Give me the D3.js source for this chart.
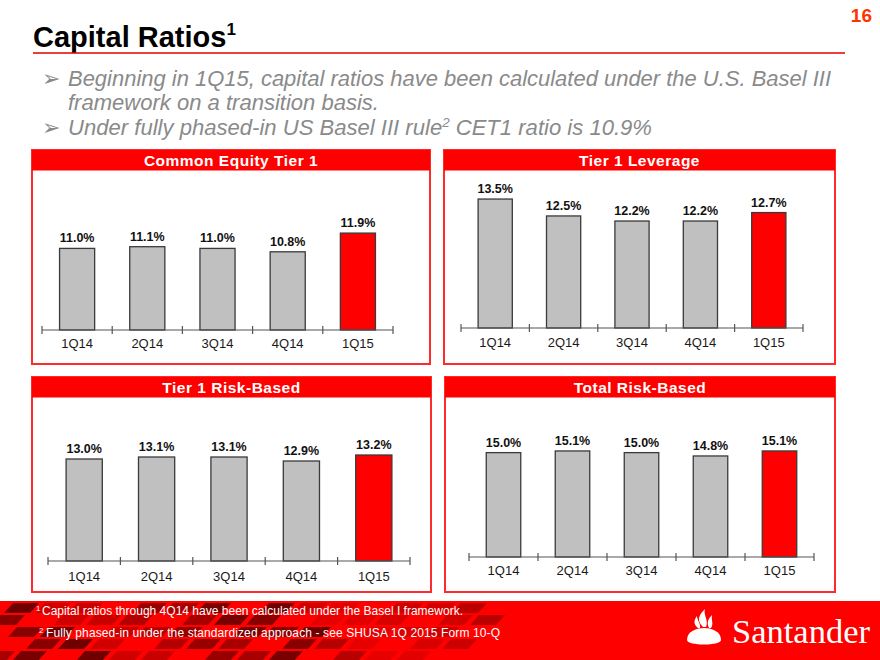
<!DOCTYPE html>
<html>
<head>
<meta charset="utf-8">
<script src="https://cdn.jsdelivr.net/npm/d3@7"></script>
<style>
  html, body { margin: 0; padding: 0; background: #fff; }
  svg { display: block; font-family: Arial, "Liberation Sans", sans-serif; }
</style>
</head>
<body>
<svg id="chart" width="880" height="660"></svg>
<script>
// ---- data ----
const categories = ["1Q14", "2Q14", "3Q14", "4Q14", "1Q15"];
const cet1 = [11.0, 11.1, 11.0, 10.8, 11.9];
const tier1Leverage = [13.5, 12.5, 12.2, 12.2, 12.7];
const tier1RiskBased = [13.0, 13.1, 13.1, 12.9, 13.2];
const totalRiskBased = [15.0, 15.1, 15.0, 14.8, 15.1];
const panelTitles = ["Common Equity Tier 1", "Tier 1 Leverage", "Tier 1 Risk-Based", "Total Risk-Based"];
const highlightCategory = "1Q15";

// ---- layout (positions / styles only) ----
const panels = [
  { title: panelTitles[0], values: cet1, box: [32, 150, 430, 364], axisY: 330, x0: 42, x1: 393, base: 6.2, k: 17.0, labelDy: 17.5 },
  { title: panelTitles[1], values: tier1Leverage, box: [444, 150, 835, 364], axisY: 328, x0: 461, x1: 803, base: 5.87, k: 16.9, labelDy: 19 },
  { title: panelTitles[2], values: tier1RiskBased, box: [32, 377, 431, 592], axisY: 561, x0: 48, x1: 410, base: 7.9, k: 20.0, labelDy: 20 },
  { title: panelTitles[3], values: totalRiskBased, box: [445, 377, 835, 592], axisY: 557, x0: 469, x1: 814, base: 8.75, k: 16.7, labelDy: 18 }
];

const svg = d3.select("#chart");

// ---- header ----
svg.append("text").attr("x", 872).attr("y", 22).attr("text-anchor", "end")
  .attr("font-size", 19).attr("font-weight", "bold").attr("fill", "#FF3300").text("16");

const title = svg.append("text").attr("x", 33).attr("y", 47)
  .attr("font-size", 29).attr("font-weight", "bold").attr("fill", "#000");
title.append("tspan").text("Capital Ratios");
title.append("tspan").attr("font-size", 17).attr("dy", -12).text("1");

svg.append("line").attr("x1", 33).attr("x2", 845).attr("y1", 53).attr("y2", 53)
  .attr("stroke", "#E00000").attr("stroke-width", 1.5);

const bulletColor = "#8a8a8a";
function bullet(y) {
  svg.append("text").attr("x", 42).attr("y", y).attr("font-size", 22)
    .attr("fill", bulletColor).attr("font-family", "DejaVu Sans").text("\u27A2");
}
bullet(86);
svg.append("text").attr("x", 68).attr("y", 86).attr("font-size", 21.5).attr("font-style", "italic")
  .attr("fill", bulletColor).attr("textLength", 763).attr("lengthAdjust", "spacingAndGlyphs")
  .text("Beginning in 1Q15, capital ratios have been calculated under the U.S. Basel III");
svg.append("text").attr("x", 68).attr("y", 110).attr("font-size", 21.5).attr("font-style", "italic")
  .attr("fill", bulletColor).attr("textLength", 311).attr("lengthAdjust", "spacingAndGlyphs")
  .text("framework on a transition basis.");
bullet(135);
const b2 = svg.append("text").attr("x", 68).attr("y", 135).attr("font-size", 21.5).attr("font-style", "italic")
  .attr("fill", bulletColor).attr("textLength", 584).attr("lengthAdjust", "spacingAndGlyphs");
b2.append("tspan").text("Under fully phased-in US Basel III rule");
b2.append("tspan").attr("font-size", 13).attr("dy", -8).text("2");
b2.append("tspan").attr("dy", 8).text(" CET1 ratio is 10.9%");

// ---- panels ----
panels.forEach(p => {
  const [bx0, by0, bx1, by1] = p.box;
  const g = svg.append("g");
  g.append("rect").attr("x", bx0).attr("y", by0).attr("width", bx1 - bx0).attr("height", by1 - by0)
    .attr("fill", "#fff").attr("stroke", "#FF2a2a").attr("stroke-width", 2);
  g.append("rect").attr("x", bx0).attr("y", by0).attr("width", bx1 - bx0).attr("height", 20.5)
    .attr("fill", "#FF0000");
  g.append("text").attr("x", (bx0 + bx1) / 2).attr("y", by0 + 16).attr("text-anchor", "middle")
    .attr("font-size", 15.5).attr("font-weight", "bold").attr("fill", "#fff")
    .attr("letter-spacing", 0.5).text(p.title);

  const x = d3.scaleBand().domain(categories).range([p.x0, p.x1])
    .paddingInner(0.5).paddingOuter(0.25);
  const y = d3.scaleLinear().domain([p.base, p.base + 10]).range([p.axisY, p.axisY - 10 * p.k]);

  const data = categories.map((c, i) => ({ c, v: p.values[i] }));

  g.selectAll(".bar").data(data).enter().append("rect")
    .attr("x", d => x(d.c)).attr("width", x.bandwidth())
    .attr("y", d => y(d.v)).attr("height", d => y(p.base) - y(d.v))
    .attr("fill", d => d.c === highlightCategory ? "#FF0000" : "#C0C0C0")
    .attr("stroke", "#3a3a3a").attr("stroke-width", 1.3);

  g.selectAll(".val").data(data).enter().append("text")
    .attr("x", d => x(d.c) + x.bandwidth() / 2).attr("y", d => y(d.v) - 6)
    .attr("text-anchor", "middle").attr("font-size", 12.5).attr("font-weight", "bold")
    .attr("fill", "#111").text(d => d.v.toFixed(1) + "%");

  // axis
  const axis = d3.axisBottom(x).tickSize(0).tickPadding(p.labelDy - 9);
  const ag = g.append("g").attr("transform", `translate(0,${p.axisY})`).call(axis);
  ag.select(".domain").remove();
  ag.selectAll("text").attr("font-size", 13).attr("fill", "#1a1a1a")
    .attr("font-family", "Arial, 'Liberation Sans', sans-serif");
  g.append("line").attr("x1", p.x0).attr("x2", p.x1).attr("y1", p.axisY).attr("y2", p.axisY)
    .attr("stroke", "#555").attr("stroke-width", 1.2);
  const bounds = d3.range(categories.length + 1).map(i => p.x0 + i * x.step());
  g.selectAll(".tk").data(bounds).enter().append("line")
    .attr("x1", d => d).attr("x2", d => d).attr("y1", p.axisY - 4).attr("y2", p.axisY + 4)
    .attr("stroke", "#555").attr("stroke-width", 1.2);
});

// ---- footer ----
const footer = svg.append("g");
footer.append("rect").attr("x", 0).attr("y", 601).attr("width", 880).attr("height", 59).attr("fill", "#FF0000");
const deco = footer.append("g");
const shades = ["#700000", "#a80000", "#c80000", "#880000", "#980000", "#d00000", "#780000", "#b40000"];
const tiles = [];
for (let r = 0; r < 5; r++) {
  for (let c = 0; c < 16; c++) {
    if ((r * 2 + c) % 4 === 3) continue;
    const x0 = c * 32 - r * 14 + 4;
    if (x0 > 470 || x0 < -20) continue;
    tiles.push({ x: x0, y: 603 + r * 12, s: shades[(r * 3 + c * 5) % shades.length], o: x0 > 300 ? 0.5 : 1 });
  }
}
deco.selectAll("polygon").data(tiles).enter().append("polygon")
  .attr("points", d => [[d.x, d.y + 10], [d.x + 9, d.y], [d.x + 35, d.y], [d.x + 26, d.y + 10]].map(q => q.join(",")).join(" "))
  .style("fill", d => d.s).style("opacity", d => d.o);

const f1 = footer.append("text").attr("y", 615).attr("fill", "#fff").attr("font-size", 12);
f1.append("tspan").attr("x", 36).attr("font-size", 8).attr("dy", -4).text("1");
f1.append("tspan").attr("x", 42).attr("dy", 4).attr("textLength", 421).attr("lengthAdjust", "spacing")
  .text("Capital ratios through 4Q14 have been calculated under the Basel I framework.");
const f2 = footer.append("text").attr("y", 637).attr("fill", "#fff").attr("font-size", 12);
f2.append("tspan").attr("x", 39).attr("font-size", 8).attr("dy", -4).text("2");
f2.append("tspan").attr("x", 46).attr("dy", 4).attr("textLength", 454).attr("lengthAdjust", "spacing")
  .text("Fully phased-in under the standardized approach - see SHUSA 1Q  2015 Form 10-Q");

// logo
const logo = footer.append("g").attr("fill", "#fff");
logo.append("path").attr("d", "M687,640 C687,631 697,628 704,628 C711,628 721,631 721,640 C721,646 687,646 687,640 Z");
logo.append("path").attr("d", "M703,627 C696,620 699,615 705,609 C703,615 709,620 706,627 Z");
logo.append("path").attr("d", "M698,628 C693,624 694,620 697,616 C697,620 701,624 700,628 Z");
logo.append("path").attr("d", "M709,628 C706,622 709,618 712,615 C711,620 714,624 711,628 Z");
footer.append("text").attr("x", 732).attr("y", 643).attr("fill", "#fff")
  .attr("font-family", "'Liberation Serif', 'DejaVu Serif', serif").attr("font-size", 34)
  .attr("textLength", 138).attr("lengthAdjust", "spacingAndGlyphs").text("Santander");
</script>
</body>
</html>
